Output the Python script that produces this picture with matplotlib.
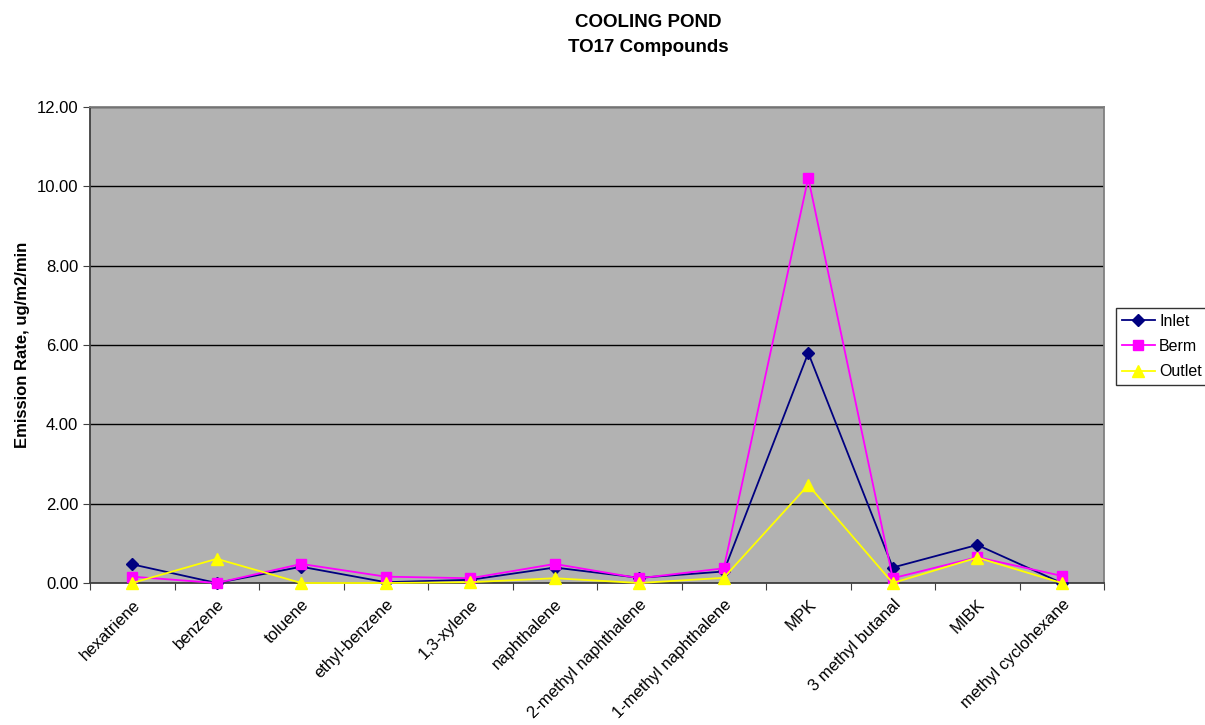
import matplotlib
matplotlib.use("Agg")
import matplotlib.pyplot as plt
import numpy as np

plt.rcParams['font.family'] = ['Liberation Sans', 'DejaVu Sans']

categories = ["hexatriene", "benzene", "toluene", "ethyl-benzene", "1,3-xylene",
              "naphthalene", "2-methyl naphthalene", "1-methyl naphthalene",
              "MPK", "3 methyl butanal", "MIBK", "methyl cyclohexane"]
inlet = [0.47, 0.00, 0.41, 0.02, 0.08, 0.39, 0.13, 0.29, 5.80, 0.39, 0.96, 0.00]
berm = [0.16, 0.00, 0.48, 0.16, 0.12, 0.48, 0.12, 0.37, 10.21, 0.12, 0.65, 0.18]
outlet = [0.00, 0.61, 0.00, 0.00, 0.02, 0.12, 0.00, 0.13, 2.47, 0.00, 0.64, 0.00]
yticks = [0, 2, 4, 6, 8, 10, 12]

fig = plt.figure(figsize=(12.05, 7.25), dpi=100)
ax = fig.add_axes([90/1205, 1-583/725, (1104-90)/1205, (583-107)/725])
ax.set_facecolor('#B2B2B2')

x = np.arange(len(categories))
ax.plot(x, inlet, color='#000080', marker='D', markersize=6, lw=1.3, label='Inlet', clip_on=False, zorder=3)
ax.plot(x, berm, color='#FF00FF', marker='s', markersize=7, lw=1.3, label='Berm', clip_on=False, zorder=4)
ax.plot(x, outlet, color='#FFFF00', marker='^', markersize=8, lw=1.3, label='Outlet', clip_on=False, zorder=5)

ax.set_xlim(-0.5, len(categories) - 0.5)
ax.set_ylim(0, 12)
ax.set_yticks(yticks)
ax.set_yticklabels([f"{v:.2f}" for v in yticks], fontsize=12)
ax.yaxis.grid(True, color='black', lw=1)
ax.set_axisbelow(True)

ax.set_xticks(np.arange(-0.5, len(categories)), minor=False)
ax.set_xticklabels([])
ax.set_xticks(x, minor=True)
ax.set_xticklabels(categories, minor=True, rotation=45, ha='right', va='top',
                   rotation_mode='anchor', fontsize=12)
ax.tick_params(axis='x', which='minor', length=0, pad=10)
ax.tick_params(axis='x', which='major', length=5, direction='out', color='#404040')
ax.tick_params(axis='y', length=5, direction='out', color='#404040')

for s in ['left', 'bottom']:
    ax.spines[s].set_color('#404040')
    ax.spines[s].set_linewidth(1.3)
for s in ['top', 'right']:
    ax.spines[s].set_color('#808080')
    ax.spines[s].set_linewidth(1.3)

ax.set_ylabel('Emission Rate, ug/m2/min', fontsize=12, fontweight='bold', labelpad=5)

fig.text(648/1205, 1-14/725, 'COOLING POND\nTO17 Compounds', ha='center', va='top',
         fontsize=13.5, fontweight='bold', linespacing=1.6)

leg = fig.legend(loc='upper left', bbox_to_anchor=(1116/1205, 1-308/725), frameon=True,
                 fancybox=False, edgecolor='black', fontsize=11.5, handlelength=2.1,
                 borderpad=0.35, labelspacing=0.65, handletextpad=0.25, borderaxespad=0)
leg.get_frame().set_linewidth(1)

fig.savefig('out.png', dpi=100, facecolor='white')
